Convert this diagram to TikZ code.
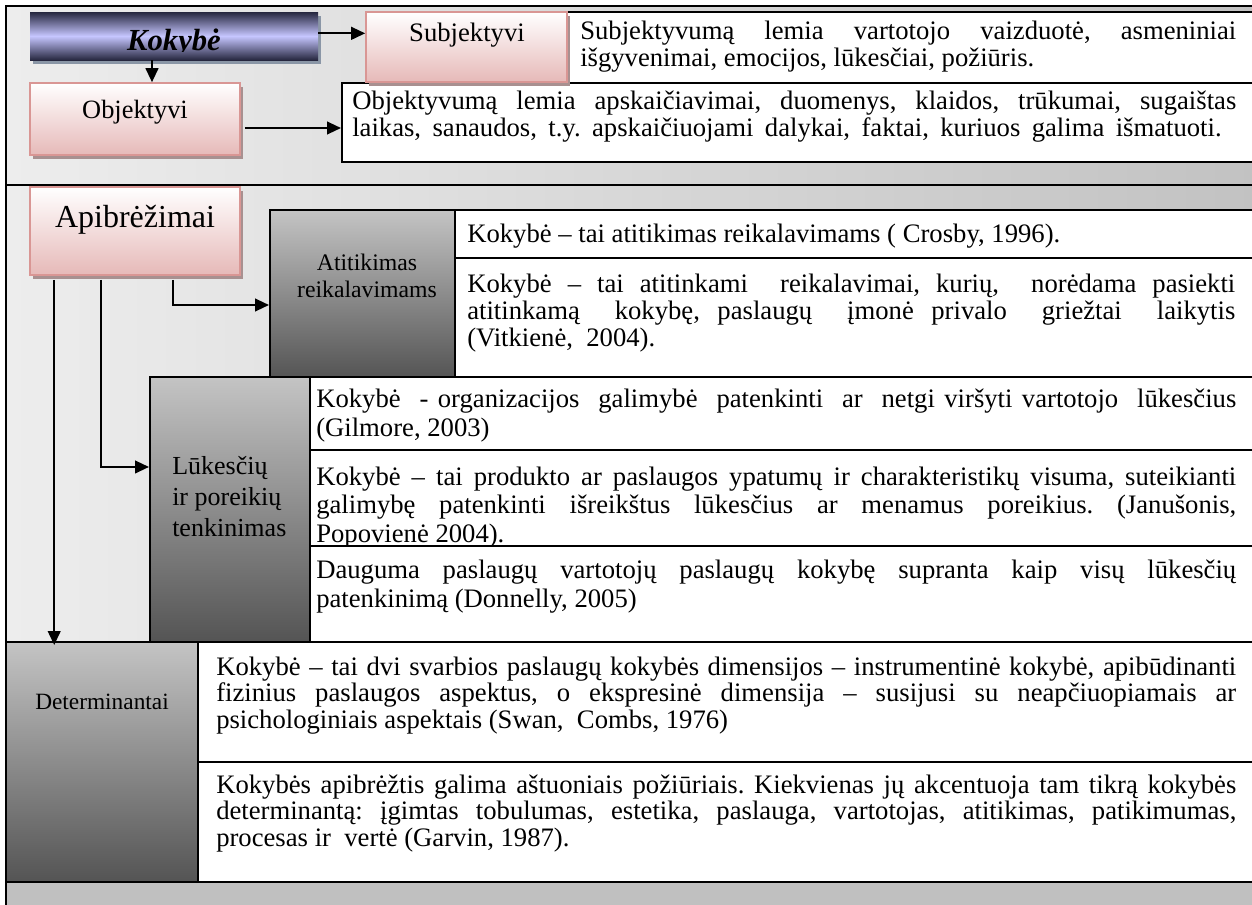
\documentclass[tikz,border=0pt]{standalone}
\usepackage{fontspec}
\usepackage{graphicx}
\setmainfont{Liberation Serif}
\usetikzlibrary{arrows.meta,fit,calc,shadows}
\definecolor{pinkB}{HTML}{D99694}
\definecolor{pinkF}{HTML}{E6B9B8}
\definecolor{pinkS}{HTML}{A89090}
\definecolor{navy}{HTML}{26273F}
\definecolor{lav}{HTML}{C6C6FF}
\definecolor{kshadow}{HTML}{8A96A6}
\definecolor{bgL}{HTML}{EDEDED}
\definecolor{bgR}{HTML}{C2C2C2}
\definecolor{gTop}{HTML}{C4C4C4}
\definecolor{gBot}{HTML}{545454}
\definecolor{band}{HTML}{C0C0C0}
\newcommand\jl[1]{\makebox[\linewidth][s]{#1}}
\newcommand\bodyfont[1]{\fontsize{20pt}{#1}\selectfont\frenchspacing}
\begin{document}
\begin{tikzpicture}[x=0.75pt,y=-0.75pt,
  frame/.style={draw=black,line width=1.5pt},
  tbox/.style={draw=black,line width=1.5pt,fill=white,inner sep=0pt},
  pinkbox/.style={draw=pinkB,line width=1.2pt,top color=white,bottom color=pinkF,inner sep=0pt,
    drop shadow={shadow xshift=2.5pt,shadow yshift=-3pt,fill=pinkS,opacity=1}},
  kokbox/.style={draw=none,top color=navy,bottom color=navy,middle color=lav,inner sep=0pt,
    drop shadow={shadow xshift=2.5pt,shadow yshift=-3pt,fill=kshadow,opacity=1}},
  greybox/.style={draw=black,line width=1.5pt,top color=gTop,bottom color=gBot,inner sep=0pt},
  arr/.style={-{Triangle[length=10.5pt,width=9.5pt]},line width=1.6pt},
  tx/.style={inner sep=0pt,anchor=base west,text=black},
  lbl/.style={inner sep=0pt,anchor=base,text=black},
]
\useasboundingbox (0,0) rectangle (1252,904);

% ---------- top section ----------
\fill[left color=bgL,right color=bgR] (6,6) rectangle (1258,185);

\node[tbox,fit={(342,83) (1258,162)}] (objt) {};
\node[tx] (objtx) at (352,109) {\parbox[t]{663pt}{\bodyfont{20.25pt}
\jl{Objektyvumą lemia apskaičiavimai, duomenys, klaidos, trūkumai, sugaištas}\\
\makebox[652pt][s]{laikas, sanaudos, t.y. apskaičiuojami dalykai, faktai, kuriuos galima išmatuoti.}}};

\node[tbox,fit={(567,12) (1258,83)}] (subjt) {};
\node[tx] (subjtx) at (580,39) {\parbox[t]{492pt}{\bodyfont{20.25pt}
\jl{Subjektyvumą lemia vartotojo vaizduotė, asmeniniai}\\
išgyvenimai, emocijos, lūkesčiai, požiūris.}};

\node[kokbox,fit={(30,12) (318,60)}] (kok) {};
\begin{scope}
\clip (30,12) rectangle (318,51.5);
\node[lbl,font=\fontsize{23pt}{27pt}\selectfont\bfseries\itshape] (kokl) at (174,50) {Kokybė};
\end{scope}

\node[pinkbox,fit={(366,12) (567,82)}] (subj) {};
\node[lbl,font=\fontsize{20pt}{23pt}\selectfont] (subjl) at (467,41) {Subjektyvi};

\node[pinkbox,fit={(30,83) (240,155)}] (obj) {};
\node[lbl,font=\fontsize{19.8pt}{23pt}\selectfont] (objl) at (135,118) {Objektyvi};

\draw[arr] ([yshift=2pt]kok.east) -- ([yshift=2pt]kok.east -| subj.west);
\draw[arr] ([xshift=-16.5pt]kok.south) -- ([xshift=-16.5pt]kok.south |- obj.north);
\draw[arr] ([xshift=3pt,yshift=-6.75pt]obj.east) -- ([yshift=-6.75pt]obj.east -| objt.west);

% ---------- middle section ----------
\fill[left color=bgL,right color=bgR] (6,185) rectangle (1258,642);

\node[pinkbox,fit={(30,187) (240,275)}] (apib) {};
\node[lbl,font=\fontsize{24pt}{28pt}\selectfont] (apibl) at (135,227) {Apibrėžimai};

\node[greybox,fit={(270,210) (455,378)}] (atit) {};
\node[lbl] (atitl) at (367,270) {\parbox[t]{170pt}{\centering\fontsize{17.8pt}{20.25pt}\selectfont Atitikimas\\reikalavimams}};

\node[tbox,fit={(455,210) (1258,258)}] (t1) {};
\node[tx] (t1x) at (467,242) {\parbox[t]{576pt}{\bodyfont{20.25pt}
Kokybė – tai atitikimas reikalavimams ( Crosby, 1996).}};

\node[tbox,fit={(455,258) (1258,378)}] (t2) {};
\node[tx] (t2x) at (467,292) {\parbox[t]{576pt}{\bodyfont{20.25pt}
\jl{Kokybė – tai atitinkami~ reikalavimai, kurių,~ norėdama pasiekti}\\
\jl{atitinkamą~ kokybę, paslaugų~ įmonė privalo~ griežtai~ laikytis}\\
(Vitkienė,~ 2004).}};

\node[greybox,fit={(150,377) (310,642)}] (luk) {};
\node[tx] (lukl) at (172,474) {\parbox[t]{130pt}{\raggedright\fontsize{19.5pt}{23.25pt}\selectfont Lūkesčių\\ir poreikių\\tenkinimas}};

\node[tbox,fit={(310,377) (1258,450)}] (l1) {};
\node[tx] (l1x) at (316,407) {\parbox[t]{690pt}{\bodyfont{21.75pt}
\jl{Kokybė~ - organizacijos~ galimybė~ patenkinti~ ar~ netgi viršyti vartotojo~ lūkesčius}\\
(Gilmore, 2003)}};

\node[tbox,fit={(310,450) (1258,546)}] (l2) {};
\node[tx] (l2x) at (316,485) {\parbox[t]{690pt}{\bodyfont{21.5pt}
\jl{Kokybė – tai produkto ar paslaugos ypatumų ir charakteristikų visuma, suteikianti}\\
\jl{galimybę patenkinti išreikštus lūkesčius ar menamus poreikius. (Janušonis,}\\
Popovienė 2004).}};

\node[tbox,fit={(310,546) (1258,642)}] (l3) {};
\node[tx] (l3x) at (316,578) {\parbox[t]{690pt}{\bodyfont{21.75pt}
\jl{Dauguma paslaugų vartotojų paslaugų kokybę supranta kaip visų lūkesčių}\\
patenkinimą (Donnelly, 2005)}};

% ---------- determinantai ----------
\node[greybox,fit={(6,642) (198,882)}] (det) {};
\node[lbl,font=\fontsize{17.5pt}{21pt}\selectfont] (detl) at (102,709) {Determinantai};

\node[tbox,fit={(198,642) (1258,762)}] (d1) {};
\node[tx] (d1x) at (216,675) {\parbox[t]{765pt}{\bodyfont{20pt}
\jl{Kokybė – tai dvi svarbios paslaugų kokybės dimensijos – instrumentinė kokybė, apibūdinanti}\\
\jl{fizinius paslaugos aspektus, o ekspresinė dimensija – susijusi su neapčiuopiamais ar}\\
psichologiniais aspektais (Swan,~ Combs, 1976)}};

\node[tbox,fit={(198,762) (1258,882)}] (d2) {};
\node[tx] (d2x) at (216,793) {\parbox[t]{765pt}{\bodyfont{20pt}
\jl{Kokybės apibrėžtis galima aštuoniais požiūriais. Kiekvienas jų akcentuoja tam tikrą kokybės}\\
\jl{determinantą: įgimtas tobulumas, estetika, paslauga, vartotojas, atitikimas, patikimumas,}\\
procesas ir~ vertė (Garvin, 1987).}};

% ---------- bottom band ----------
\fill[band] (6,883) rectangle (1258,910);

% ---------- arrows from Apibrėžimai ----------
\draw[arr] ([xshift=108pt,yshift=-3pt]apib.south west) |- ([yshift=-8.25pt]atit.west);
\draw[arr] ([xshift=54pt,yshift=-3pt]apib.south west) |- ([yshift=31.9pt]luk.west);
\draw[arr] ([xshift=18.75pt,yshift=-3pt]apib.south west) -- ([xshift=18.75pt,yshift=-3pt]apib.south west |- det.north);

% ---------- frame ----------
\draw[frame] (6,912) -- (6,6) -- (1260,6);
\draw[frame] (6,185) -- (1260,185);
\draw[frame] (6,882) -- (1260,882);
\end{tikzpicture}
\end{document}
